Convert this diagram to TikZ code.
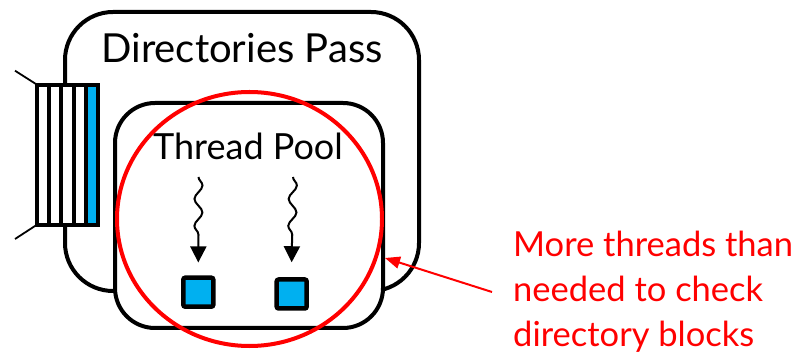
\documentclass[tikz,border=0pt]{standalone}
\usepackage{fontspec}
\setmainfont{Lato}
\usetikzlibrary{arrows.meta,decorations.pathmorphing,shapes.geometric}
\definecolor{qblue}{HTML}{00B0F0}
\definecolor{qred}{HTML}{FF0000}
\begin{document}
\begin{tikzpicture}[x=1pt,y=-1pt,
  panel/.style={draw=black, line width=4pt, fill=white, inner sep=0pt},
  cell/.style={draw=black, line width=4pt, fill=white, minimum width=12.2pt,
    minimum height=140pt, inner sep=0pt, outer sep=0pt},
  feed/.style={draw=black, line width=1.8pt},
  worker/.style={draw=black, line width=4.5pt, fill=qblue, minimum width=30pt,
    minimum height=29pt, inner sep=0pt, rounded corners=2pt},
  wavy/.style={draw=black, line width=2pt,
    -{Triangle[width=16pt,length=16pt]},
    decorate, decoration={snake, amplitude=4pt, segment length=27pt,
      post length=18pt}},
  label/.style={inner sep=0pt, text=black},
  note/.style={inner sep=0pt, text=qred, align=left,
    font=\fontsize{34.5}{41}\selectfont},
  pointer/.style={draw=qred, line width=2pt, -{Triangle[width=12pt,length=15pt]}}]
\useasboundingbox (0,0) rectangle (798,355);

% outer pass box
\node[panel, rounded corners=48pt, minimum width=354pt, minimum height=279pt]
  (pass) at (242,151.5) {};
\node[label, anchor=base, font=\fontsize{40}{40}\selectfont]
  (passtitle) at (242,63) {Directories Pass};

% input queue on the left edge
\coordinate (qa) at (15,70.7);
\coordinate (qb) at (15,239);
\foreach \i in {0,...,4} {
  \node[cell] (c\i) at ({43.1+12.2*\i},154.7) {};
}
\node[cell, fill=qblue] (c4) at ({43.1+12.2*4},154.7) {};
\draw[feed] (qa) -- (c0.north west);
\draw[feed] (qb) -- (c0.south west);

% thread pool box
\node[panel, rounded corners=40pt, minimum width=268pt, minimum height=225pt]
  (pool) at (249,215.5) {};
\node[label, anchor=base, font=\fontsize{36}{36}\selectfont]
  (pooltitle) at (248,160) {Thread Pool};

% worker threads and their blocks
\node[worker] (sq1) at (198.3,292.2) {};
\node[worker] (sq2) at (291.7,294) {};
\coordinate (w1) at (198.5,177);
\coordinate (w2) at (293,177);
\draw[wavy] (w1) -- ([yshift=13pt]sq1.north);
\draw[wavy] (w2) -- ([yshift=15pt]sq2.north);

% highlight ring
\node[draw=qred, line width=4pt, ellipse, minimum width=265pt,
  minimum height=254pt, inner sep=0pt] (ring) at (249.5,219) {};

% annotation
\node[note, anchor=base west] (remark) at (513,347)
  {More threads than\\[4pt]needed to check\\[4pt]directory blocks};
\coordinate (tail) at (492,292);
\coordinate (tip) at (385,258);
\draw[pointer] (tail) -- (tip);
\end{tikzpicture}
\end{document}
